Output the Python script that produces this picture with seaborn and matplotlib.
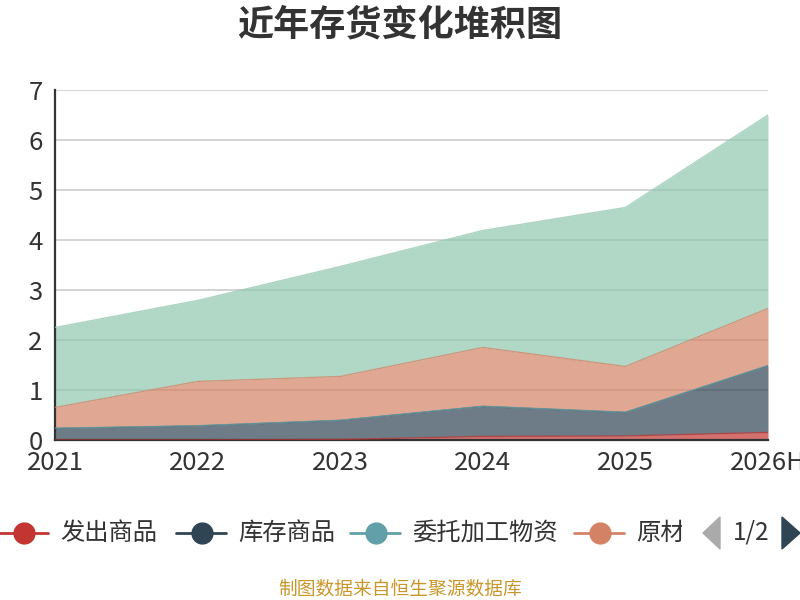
import numpy as np
import pandas as pd
import matplotlib
matplotlib.use("Agg")
import matplotlib.pyplot as plt
from matplotlib.lines import Line2D
from matplotlib.patches import Polygon
from matplotlib.transforms import Bbox
import seaborn as sns

# 数据（单位：亿元），按堆叠顺序自下而上
years = ["2021", "2022", "2023", "2024", "2025", "2026H"]
fachu = [0.0, 0.0, 0.01, 0.07, 0.08, 0.15]          # 发出商品
kucun = [0.23, 0.28, 0.38, 0.60, 0.47, 1.33]        # 库存商品
weituo = [0.005, 0.005, 0.005, 0.005, 0.005, 0.01]  # 委托加工物资
yuancailiao = [0.415, 0.885, 0.875, 1.175, 0.915, 1.14]  # 原材料
zaichanpin = [1.60, 1.62, 2.20, 2.34, 3.18, 3.87]   # 在产品

series_names = ["发出商品", "库存商品", "委托加工物资", "原材料", "在产品"]
colors = ["#c23531", "#2f4554", "#61a0a8", "#d48265", "#91c7ae"]

df = pd.DataFrame({
    "year": years,
    "发出商品": fachu,
    "库存商品": kucun,
    "委托加工物资": weituo,
    "原材料": yuancailiao,
    "在产品": zaichanpin,
})

sns.set_style("white")
plt.rcParams["font.family"] = ["Noto Sans CJK SC", "DejaVu Sans"]

fig = plt.figure(figsize=(8, 6), dpi=100)
ax = fig.add_axes([0.06875, 0.2667, 0.89125, 0.5833])

x = np.arange(len(years))
cum = df[series_names].cumsum(axis=1)
prev = np.zeros(len(years))
for name, c in zip(series_names, colors):
    top = cum[name].values
    ax.fill_between(x, prev, top, color=c, alpha=0.7, linewidth=0, zorder=2)
    sns.lineplot(x=x, y=top, ax=ax, color=c, alpha=0.75, linewidth=1, zorder=3)
    prev = top

ax.set_xlim(0, len(years) - 1)
ax.set_ylim(0, 7)
ax.set_xticks(x)
ax.set_xticklabels(years)
ax.set_yticks(range(0, 8))
ax.yaxis.grid(True, color="#cccccc", linewidth=1.2, zorder=0)
ax.set_axisbelow(True)
for s in ["top", "right"]:
    ax.spines[s].set_visible(False)
for s in ["left", "bottom"]:
    ax.spines[s].set_color("#333333")
    ax.spines[s].set_linewidth(1.6)
ax.tick_params(axis="both", colors="#333333", labelsize=18.5, length=6, width=1.6,
               direction="out", labelcolor="#333333")
ax.tick_params(axis="y", pad=3)
ax.tick_params(axis="x", pad=1)
ax.set_xlabel("")
ax.set_ylabel("")

fig.text(0.5, 1 - 25 / 600, "近年存货变化堆积图", ha="center", va="center",
         fontsize=26, fontweight="bold", color="#333333")

# 被裁掉的纵轴单位（参考图中只露出一点边缘）
fig.text(-0.013, 1 - 115 / 600, "单位：亿元", rotation=90, ha="left", va="center",
         fontsize=9, color="red")

# 图例（第一页）
W, H = 800, 600
leg_y = 1 - 533 / H
item_x = [24, 202, 376, 600]
for name, c, cx in zip(series_names[:4], colors[:4], item_x):
    fig.add_artist(Line2D([(cx - 26) / W, (cx + 24) / W], [leg_y, leg_y],
                          color=c, linewidth=2, transform=fig.transFigure))
    fig.add_artist(Line2D([cx / W], [leg_y], marker="o", markersize=15,
                          color=c, transform=fig.transFigure))
    t = fig.text((cx + 36) / W, leg_y, name, ha="left", va="center",
                 fontsize=17.5, color="#333333")
    if name == "原材料":
        t.set_clip_box(Bbox.from_extents(0, 0, 682, H))
        t.set_clip_on(True)

fig.add_artist(Polygon([[703 / W, leg_y], [720 / W, leg_y + 16 / H], [720 / W, leg_y - 16 / H]],
                       closed=True, color="#aaaaaa", transform=fig.transFigure))
fig.add_artist(Polygon([[800 / W, leg_y], [782 / W, leg_y + 16 / H], [782 / W, leg_y - 16 / H]],
                       closed=True, color="#2f4554", transform=fig.transFigure))
fig.text(751 / W, leg_y, "1/2", ha="center", va="center", fontsize=17.5, color="#333333")

fig.text(0.5, 1 - 589 / H, "制图数据来自恒生聚源数据库", ha="center", va="center",
         fontsize=13.5, color="#c9962a")

fig.savefig("out.png", dpi=100)
